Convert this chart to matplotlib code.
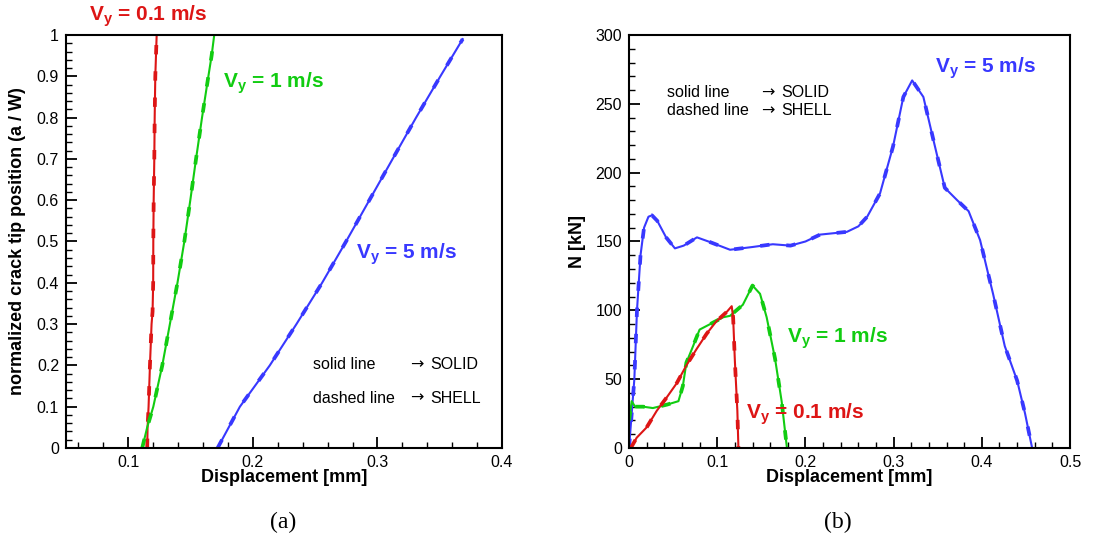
import matplotlib
matplotlib.use("Agg")
import matplotlib.pyplot as plt
from matplotlib.ticker import MultipleLocator

plt.rcParams['font.family'] = ['Liberation Sans', 'DejaVu Sans']
plt.rcParams['mathtext.fontset'] = 'custom'
plt.rcParams['mathtext.bf'] = 'Liberation Sans:bold'
plt.rcParams['mathtext.rm'] = 'Liberation Sans'

RED = '#dd1515'
GREEN = '#11cc11'
BLUE = '#3838ff'

# (a) crack tip position vs displacement
crack_red_x = [0.1152, 0.1155, 0.1163, 0.1174, 0.1187, 0.1195, 0.1200, 0.1201, 0.1204, 0.1209, 0.1212, 0.1217, 0.1228]
crack_red_y = [0.0, 0.05, 0.1, 0.2, 0.3, 0.33, 0.4, 0.5, 0.6, 0.7, 0.8, 0.9, 1.0]
crack_green_x = [0.1112, 0.1152, 0.1201, 0.1273, 0.1334, 0.1395, 0.145, 0.1498, 0.1544, 0.1592, 0.1643, 0.1669, 0.169]
crack_green_y = [0.0, 0.05, 0.1, 0.2, 0.3, 0.4, 0.5, 0.6, 0.7, 0.8, 0.9, 0.95, 1.0]
crack_blue_x = [0.1717, 0.1896, 0.2136, 0.235, 0.2556, 0.2748, 0.2935, 0.3122, 0.331, 0.3505, 0.3684]
crack_blue_y = [0.0, 0.1, 0.2, 0.3, 0.4, 0.5, 0.6, 0.7, 0.8, 0.9, 0.99]

# (b) force vs displacement
n_blue_x = [0.0, 0.003, 0.006, 0.009, 0.013, 0.017, 0.022, 0.026, 0.032, 0.042, 0.052, 0.062, 0.077,
            0.09, 0.1145, 0.14, 0.163, 0.183, 0.2, 0.2166, 0.247, 0.26, 0.27, 0.2846, 0.2993, 0.311,
            0.321, 0.3337, 0.345, 0.358, 0.372, 0.385, 0.398, 0.407, 0.4127, 0.426, 0.44, 0.449, 0.457]
n_blue_y = [0, 25, 50, 100, 140, 160, 168, 169, 165, 153, 145, 147, 153,
            150, 144, 146, 148, 147, 150, 155, 157, 161, 168, 185, 219, 255,
            267, 255, 224, 189, 180, 172, 151, 127, 112, 74, 49, 25, 0]
n_green_x = [0.0, 0.003, 0.0068, 0.016, 0.027, 0.043, 0.056, 0.061, 0.065, 0.0726, 0.08, 0.092, 0.107,
             0.1145, 0.129, 0.14, 0.1485, 0.156, 0.1655, 0.173, 0.179]
n_green_y = [20, 34, 30, 30, 29, 31.5, 34, 45, 62, 74, 86, 90, 95,
             96, 104, 118, 112, 95, 65, 34, 0]
n_red_x = [0.002, 0.0087, 0.02, 0.0314, 0.043, 0.054, 0.065, 0.0767, 0.088, 0.099, 0.111, 0.1164,
           0.118, 0.12, 0.1228, 0.124]
n_red_y = [0, 7.5, 15, 27, 37, 47, 60, 72, 83, 92, 99, 103, 95, 63, 27, 0]


def draw(ax, x, y, c):
    ax.plot(x, y, color=c, lw=1.5, solid_joinstyle='round')
    ax.plot(x, y, color=c, lw=2.7, dashes=(2.5, 4.5))


def style(ax):
    for s in ax.spines.values():
        s.set_linewidth(1.5)
    ax.tick_params(which='both', direction='in', top=False, right=False, labelsize=11.5, pad=5)
    ax.tick_params(which='major', length=8, width=1.3)
    ax.tick_params(which='minor', length=4.5, width=1.0)


def note(ax, x, y, word, ax_x, arrow_word):
    # "solid line -> SOLID" style notes, the arrow drawn in DejaVu Sans
    ax.text(x, y, word, fontsize=11.5, va='center', transform=ax.transAxes)
    ax.text(ax_x, y, '\u2192', fontsize=11.5, va='center', family='DejaVu Sans', transform=ax.transAxes)
    ax.text(ax_x + 0.045, y, arrow_word, fontsize=11.5, va='center', transform=ax.transAxes)


fig = plt.figure(figsize=(10.94, 5.4), dpi=100)
ax1 = fig.add_axes([0.0603, 0.1704, 0.3986, 0.7648])
ax2 = fig.add_axes([0.575, 0.1704, 0.4031, 0.7648])

draw(ax1, crack_red_x, crack_red_y, RED)
draw(ax1, crack_green_x, crack_green_y, GREEN)
draw(ax1, crack_blue_x, crack_blue_y, BLUE)
ax1.set_xlim(0.05, 0.4)
ax1.set_ylim(0, 1)
ax1.set_xticks([0.1, 0.2, 0.3, 0.4])
ax1.set_xticklabels(['0.1', '0.2', '0.3', '0.4'])
ax1.xaxis.set_minor_locator(MultipleLocator(0.02))
ax1.set_yticks([0, 0.1, 0.2, 0.3, 0.4, 0.5, 0.6, 0.7, 0.8, 0.9, 1.0])
ax1.set_yticklabels(['0', '0.1', '0.2', '0.3', '0.4', '0.5', '0.6', '0.7', '0.8', '0.9', '1'])
ax1.yaxis.set_minor_locator(MultipleLocator(0.02))
style(ax1)
ax1.set_xlabel('Displacement [mm]', fontsize=13, fontweight='bold')
ax1.set_ylabel('normalized crack tip position (a / W)', fontsize=13, fontweight='bold')
ax1.xaxis.set_label_coords(0.5, -0.052)
ax1.yaxis.set_label_coords(-0.092, 0.5)

kw = dict(fontsize=15, fontweight='bold', va='center', ha='left', transform=ax1.transAxes)
ax1.text(0.053, 1.045, r'$\mathbf{V_y}$ = 0.1 m/s', color=RED, **kw)
ax1.text(0.36, 0.883, r'$\mathbf{V_y}$ = 1 m/s', color=GREEN, **kw)
ax1.text(0.665, 0.469, r'$\mathbf{V_y}$ = 5 m/s', color=BLUE, **kw)
note(ax1, 0.567, 0.203, 'solid line', 0.79, 'SOLID')
note(ax1, 0.567, 0.121, 'dashed line', 0.79, 'SHELL')

draw(ax2, n_blue_x, n_blue_y, BLUE)
draw(ax2, n_green_x, n_green_y, GREEN)
draw(ax2, n_red_x, n_red_y, RED)
ax2.set_xlim(0, 0.5)
ax2.set_ylim(0, 300)
ax2.set_xticks([0, 0.1, 0.2, 0.3, 0.4, 0.5])
ax2.set_xticklabels(['0', '0.1', '0.2', '0.3', '0.4', '0.5'])
ax2.xaxis.set_minor_locator(MultipleLocator(0.02))
ax2.yaxis.set_major_locator(MultipleLocator(50))
ax2.yaxis.set_minor_locator(MultipleLocator(10))
style(ax2)
ax2.set_xlabel('Displacement [mm]', fontsize=13, fontweight='bold')
ax2.set_ylabel('N [kN]', fontsize=13, fontweight='bold')
ax2.xaxis.set_label_coords(0.5, -0.052)
ax2.yaxis.set_label_coords(-0.098, 0.5)

kw2 = dict(fontsize=15, fontweight='bold', va='center', ha='left', transform=ax2.transAxes)
ax2.text(0.694, 0.92, r'$\mathbf{V_y}$ = 5 m/s', color=BLUE, **kw2)
ax2.text(0.358, 0.266, r'$\mathbf{V_y}$ = 1 m/s', color=GREEN, **kw2)
ax2.text(0.265, 0.082, r'$\mathbf{V_y}$ = 0.1 m/s', color=RED, **kw2)
note(ax2, 0.086, 0.86, 'solid line', 0.30, 'SOLID')
note(ax2, 0.086, 0.818, 'dashed line', 0.30, 'SHELL')

fig.text(0.2587, 0.033, '(a)', fontsize=17, family='Liberation Serif', ha='center', va='center')
fig.text(0.766, 0.033, '(b)', fontsize=17, family='Liberation Serif', ha='center', va='center')

fig.savefig('out.png', dpi=100)
